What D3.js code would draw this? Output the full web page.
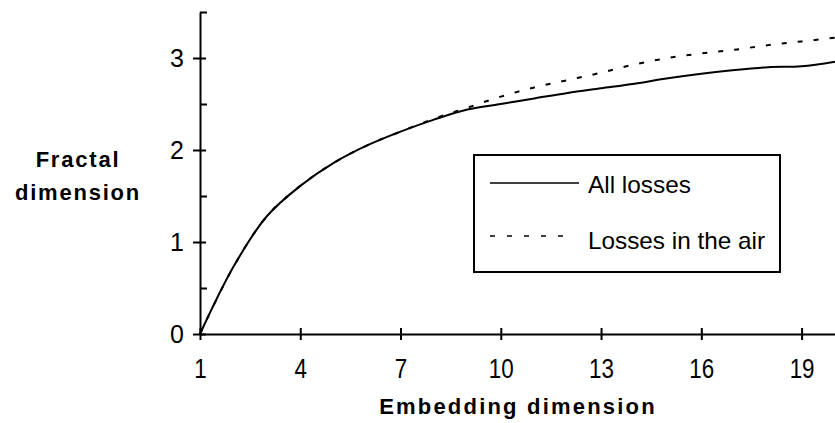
<!DOCTYPE html>
<html>
<head>
<meta charset="utf-8">
<script src="https://cdn.jsdelivr.net/npm/d3@7"></script>
<style>
  body { margin: 0; background: #fff; }
  svg text { font-family: "Liberation Sans", Arial, sans-serif; fill: #000; }
</style>
</head>
<body>
<svg id="chart" width="835" height="423"></svg>
<script>
const embedDims = [1, 2, 3, 4, 5, 6, 7, 8, 9, 10, 11, 12, 13, 14, 15, 16, 17, 18, 19, 20];
const allLosses = [0, 0.73, 1.28, 1.61, 1.86, 2.05, 2.2, 2.33, 2.44, 2.5, 2.56, 2.62, 2.67, 2.72, 2.78, 2.83, 2.87, 2.9, 2.91, 2.96];
const airLosses = [0, 0.73, 1.28, 1.61, 1.86, 2.05, 2.2, 2.34, 2.46, 2.58, 2.68, 2.76, 2.84, 2.93, 3.0, 3.05, 3.09, 3.14, 3.18, 3.22];
const xTicks = [1, 4, 7, 10, 13, 16, 19];
const yTicks = [0, 1, 2, 3];
const yMinor = [0.5, 1.5, 2.5, 3.5];
const legendLabels = ['All losses', 'Losses in the air'];

const svg = d3.select('#chart');

const x = d3.scaleLinear().domain([1, 20]).range([200, 835]);
const y = d3.scaleLinear().domain([0, 3.5]).range([334, 12]);

// y axis
const yAxis = svg.append('g')
  .attr('transform', 'translate(200,0)')
  .call(d3.axisLeft(y).tickValues(yTicks).tickSizeOuter(0).tickFormat(d3.format('d')));
yAxis.selectAll('.tick line').attr('x1', 6).attr('x2', -7);
yAxis.selectAll('.tick text')
  .attr('x', -16)
  .style('font-size', '25px');

svg.append('g')
  .attr('transform', 'translate(200,0)')
  .call(d3.axisLeft(y).tickValues(yMinor).tickSize(-7).tickFormat(''))
  .select('.domain').remove();

// x axis
const xAxis = svg.append('g')
  .attr('transform', 'translate(0,334)')
  .call(d3.axisBottom(x).tickValues(xTicks).tickSizeOuter(0));
xAxis.selectAll('.tick line').attr('y1', -6).attr('y2', 6);
xAxis.selectAll('.tick text')
  .attr('y', 24)
  .attr('dy', '0.71em')
  .attr('transform', 'scale(0.8,1)')
  .style('font-size', '28px');

svg.selectAll('.domain, .tick line').attr('stroke', '#000').attr('stroke-width', 2);

// axis titles
svg.append('text')
  .attr('x', 518).attr('y', 414)
  .attr('text-anchor', 'middle')
  .style('font-size', '22px').style('font-weight', 'bold').style('letter-spacing', '2.2px')
  .text('Embedding dimension');

const yTitle = svg.append('text')
  .attr('text-anchor', 'middle')
  .style('font-size', '22px').style('font-weight', 'bold').style('letter-spacing', '1.8px');
yTitle.append('tspan').attr('x', 78).attr('y', 167).text('Fractal');
yTitle.append('tspan').attr('x', 78).attr('y', 200).text('dimension');

// lines
const line = d3.line()
  .x((d, i) => x(embedDims[i]))
  .y((d) => y(d))
  .curve(d3.curveCatmullRom.alpha(0.5));

svg.append('path')
  .datum(airLosses)
  .attr('d', line)
  .attr('fill', 'none')
  .attr('stroke', '#000')
  .attr('stroke-width', 2)
  .attr('stroke-dasharray', '5,11');

svg.append('path')
  .datum(allLosses)
  .attr('d', line)
  .attr('fill', 'none')
  .attr('stroke', '#000')
  .attr('stroke-width', 2);

// legend
svg.append('rect')
  .attr('x', 474).attr('y', 155)
  .attr('width', 306).attr('height', 117)
  .attr('fill', '#fff')
  .attr('stroke', '#000')
  .attr('stroke-width', 2);

const legend = svg.selectAll('.legend')
  .data(legendLabels)
  .enter()
  .append('g')
  .attr('class', 'legend')
  .attr('transform', (d, i) => 'translate(490,' + (183 + i * 53) + ')');

legend.append('line')
  .attr('x1', 0).attr('x2', (d, i) => (i === 0 ? 89 : 82))
  .attr('y1', 0).attr('y2', 0)
  .attr('stroke', '#000')
  .attr('stroke-width', 1.5)
  .attr('stroke-dasharray', (d, i) => (i === 0 ? null : '5,12'));

legend.append('text')
  .attr('x', 98)
  .attr('y', (d, i) => (i === 0 ? 10 : 13))
  .style('font-size', '24px')
  .attr('textLength', (d, i) => (i === 0 ? 103 : 177))
  .attr('lengthAdjust', 'spacingAndGlyphs')
  .text((d) => d);
</script>
</body>
</html>
